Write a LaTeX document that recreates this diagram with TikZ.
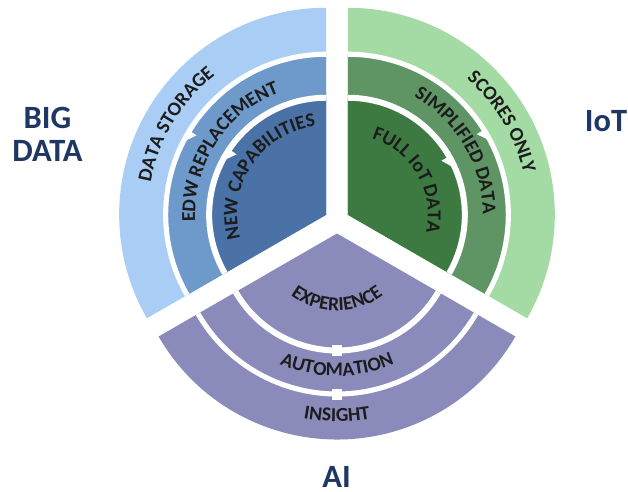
\documentclass[tikz,border=0pt]{standalone}
\usepackage{fontspec}
\setmainfont{Carlito}
\usepackage{xcolor}
\usetikzlibrary{decorations.text}

\definecolor{bdlight}{HTML}{A9CDF4}
\definecolor{bdmid}{HTML}{6E9ACB}
\definecolor{bddark}{HTML}{4A72A6}
\definecolor{iotlight}{HTML}{A4DBA4}
\definecolor{iotmid}{HTML}{5F9565}
\definecolor{iotdark}{HTML}{3D7A42}
\definecolor{aipurple}{HTML}{8B8BBB}
\definecolor{titleblue}{HTML}{1F3763}
\definecolor{ringtxt}{HTML}{1C1C1C}

\newcommand{\ringfont}{\fontsize{11.2}{13}\selectfont\bfseries\color{ringtxt}}

\begin{document}
\begin{tikzpicture}[scale=0.02,
		gapline/.style={white, line width=2.9pt},
		gapinner/.style={white, line width=3.4pt},
		ringtext/.style={decorate, decoration={text along path, text align=center, text={|\ringfont|#1}}},
		title/.style={font=\fontsize{18.5}{19}\selectfont\bfseries, text=titleblue, align=center, inner sep=0pt}]
	\useasboundingbox (-337,-271) rectangle (291,221);

	% big data sector
	\begin{scope}[shift={(150:12.5)}]
		\fill[bdlight] (0,0) -- (90:207) arc[start angle=90, end angle=210, radius=207] -- cycle;
		\fill[bdmid] (0,0) -- (90:160.5) arc[start angle=90, end angle=210, radius=160.5] -- cycle;
		\fill[bddark] (0,0) -- (90:117) arc[start angle=90, end angle=210, radius=117] -- cycle;
		\draw[gapline] (90:160.5) arc[start angle=90, end angle=210, radius=160.5];
		\draw[gapinner] (90:117) arc[start angle=90, end angle=210, radius=117];
		\fill[white] (148.5:160) -- (148.5:152) -- (152:158.5) -- cycle;
		\fill[white] (146:116) -- (146:108) -- (151:114.5) -- cycle;
		\path[ringtext={DATA STORAGE}] (199:178.5) arc[start angle=199, end angle=99, radius=178.5];
		\path[ringtext={EDW REPLACEMENT}] (207:131) arc[start angle=207, end angle=87, radius=131];
		\path[ringtext={NEW CAPABILITIES}] (216:89) arc[start angle=216, end angle=76, radius=89];
	\end{scope}

	% iot sector
	\begin{scope}[shift={(30:12.5)}]
		\fill[iotlight] (0,0) -- (90:207) arc[start angle=90, end angle=-30, radius=207] -- cycle;
		\fill[iotmid] (0,0) -- (90:160.5) arc[start angle=90, end angle=-30, radius=160.5] -- cycle;
		\fill[iotdark] (0,0) -- (90:117) arc[start angle=90, end angle=-30, radius=117] -- cycle;
		\draw[gapline] (90:160.5) arc[start angle=90, end angle=-30, radius=160.5];
		\draw[gapinner] (90:117) arc[start angle=90, end angle=-30, radius=117];
		\fill[white] (32:160) -- (32:152) -- (28.5:158.5) -- cycle;
		\fill[white] (30:116) -- (30:108) -- (25:114.5) -- cycle;
		\path[ringtext={SCORES ONLY}] (81:180.5) arc[start angle=81, end angle=-19, radius=180.5];
		\path[ringtext={SIMPLIFIED DATA}] (90:135) arc[start angle=90, end angle=-29, radius=135];
		\path[ringtext={FULL IoT DATA}] (95:80) arc[start angle=95, end angle=-35, radius=80];
	\end{scope}

	% ai sector
	\begin{scope}[shift={(270:12.5)}]
		\fill[aipurple] (0,0) -- (210:206) arc[start angle=210, end angle=330, radius=206] -- cycle;
		\draw[gapline] (210:160.5) arc[start angle=210, end angle=330, radius=160.5];
		\draw[gapinner] (210:117) arc[start angle=210, end angle=330, radius=117];
		\fill[white] (-5,-111) rectangle (5,-122);
		\fill[white] (-5,-155) rectangle (5,-166);
		\path[ringtext={EXPERIENCE}] (205:77) arc[start angle=205, end angle=335, radius=77];
		\path[ringtext={AUTOMATION}] (215:142.5) arc[start angle=215, end angle=325, radius=142.5];
		\path[ringtext={INSIGHT}] (225:188) arc[start angle=225, end angle=315, radius=188];
	\end{scope}

	\node[title] (bigdata) at (-289.5,86.5) {BIG\\DATA};
	\node[title] (iot) at (269,100) {IoT};
	\node[title] (ai) at (-0.5,-256) {AI};
\end{tikzpicture}
\end{document}
